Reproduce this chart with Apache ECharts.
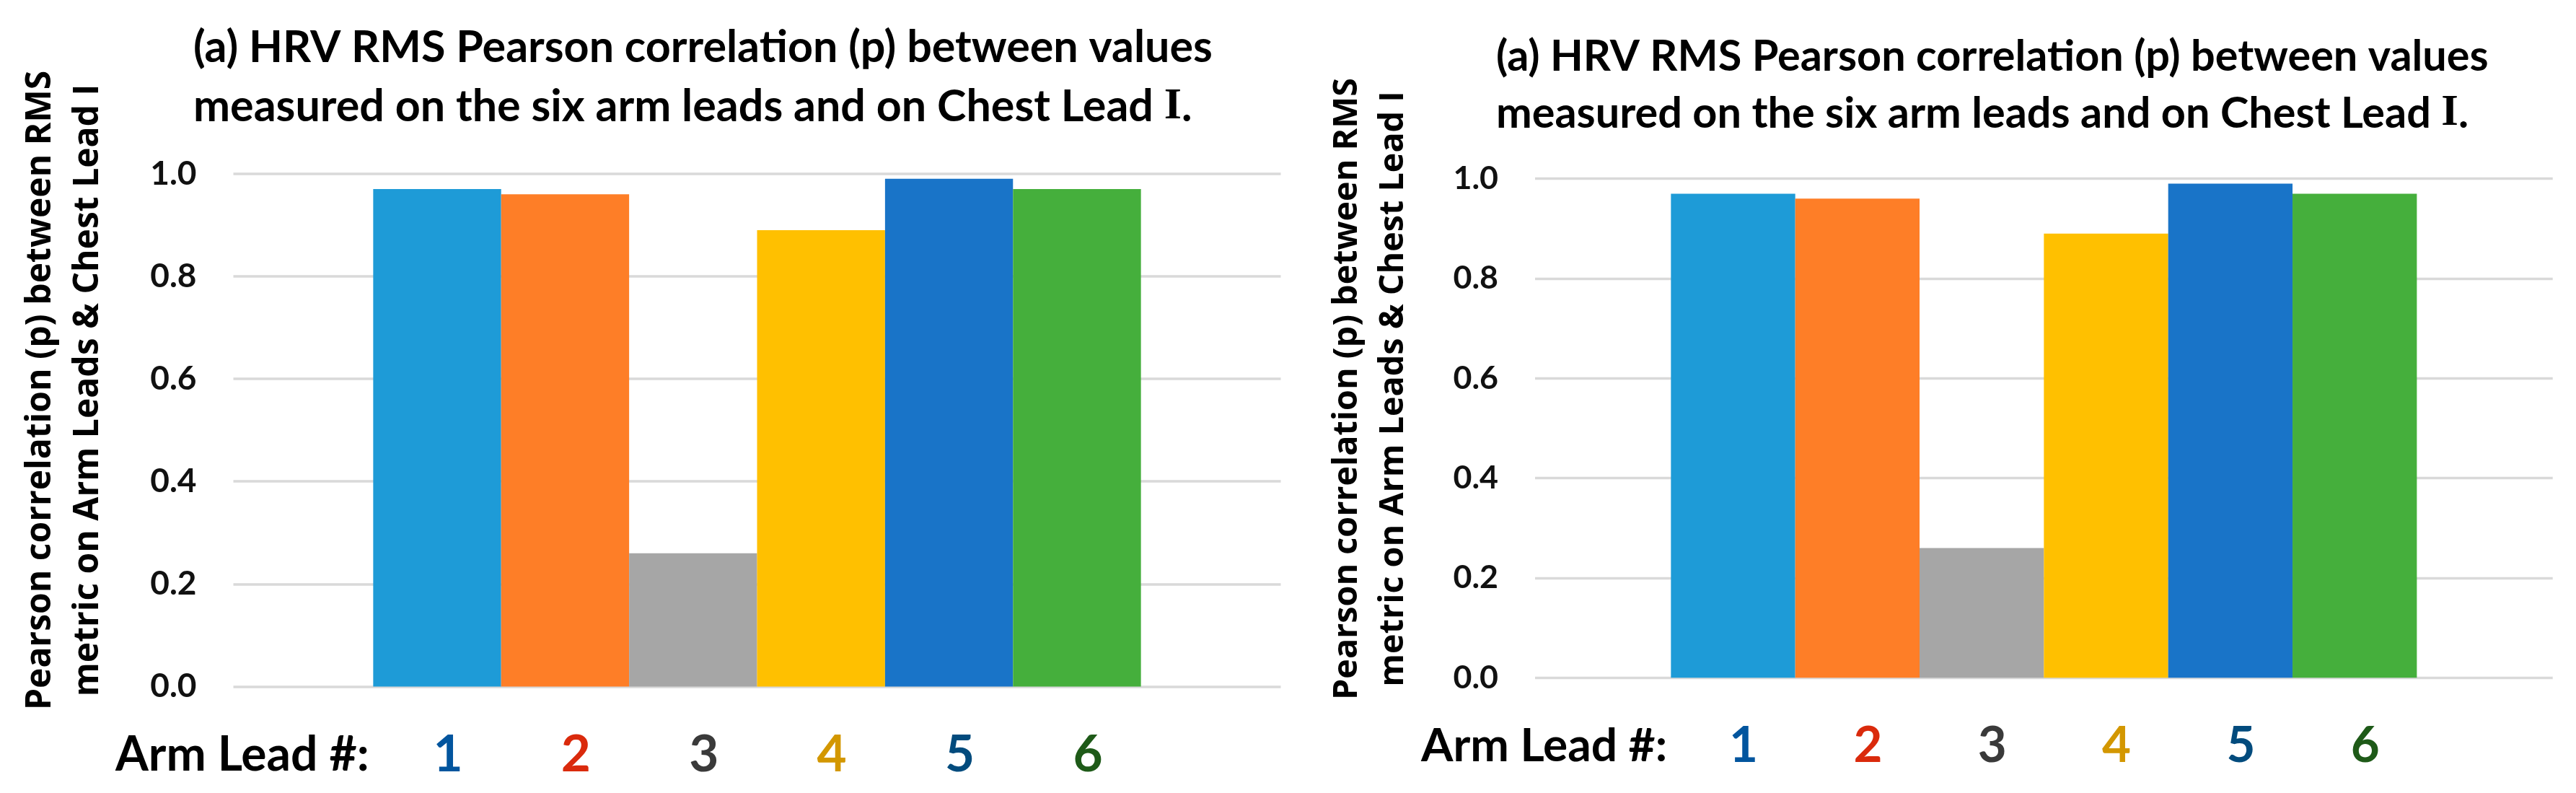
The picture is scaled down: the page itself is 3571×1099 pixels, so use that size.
<!DOCTYPE html>
<html>
<head>
<meta charset="utf-8">
<script src="https://cdn.jsdelivr.net/npm/echarts@6/dist/echarts.min.js"></script>
<style>
html, body { margin: 0; padding: 0; background: #ffffff; }
#chart { width: 3571px; height: 1099px; }
</style>
</head>
<body>
<div id="chart"></div>
<script>
// ---------------- data ----------------
const categories = ['Arm Lead'];
const leadNames = ['1', '2', '3', '4', '5', '6'];
const rmsCorrLeft = [0.97, 0.96, 0.26, 0.89, 0.99, 0.97];
const rmsCorrRight = [0.97, 0.96, 0.26, 0.89, 0.99, 0.97];
const yMin = 0, yMax = 1.0, yStep = 0.2;
const titleLine1 = '(a) HRV RMS Pearson correlation (p) between values';
const titleLine2 = 'measured on the six arm leads and on Chest Lead ';
const titleRoman = 'I';
const yNameLines = ['Pearson correlation (p) between RMS', 'metric on Arm Leads & Chest Lead I'];
const xLabelText = 'Arm Lead #:';

// ---------------- styles ----------------
const barColors = ['#1E9BD7', '#FE7E27', '#A6A6A6', '#FFC000', '#1974C8', '#45AF3C'];
const numColors = ['#02559E', '#DA2A0C', '#3A3A3A', '#D39700', '#024B7D', '#1E5A18'];
const SANS = 'Lato, "Open Sans", sans-serif';
const LABEL_FONT = '"Open Sans", "Noto Sans", sans-serif';

const panels = [
  { values: rmsCorrLeft, grid: { left: 323.5, top: 240.7, width: 1452, height: 710.8 }, s: 1.0,
    titleLeft: 268, titleTop: 25, titleLH: 82, titleSize: 61,
    yName: { x: 89, y: 541, lh: 66, size: 48 },
    xLab: { x: 160, y: 1047, size: 66 },
    numDist: 59, numSize: 71 },
  { values: rmsCorrRight, grid: { left: 2128, top: 247.7, width: 1410.7, height: 691.5 }, s: 0.973,
    titleLeft: 2074, titleTop: 39, titleLH: 79, titleSize: 59.4,
    yName: { x: 1900, y: 539, lh: 64, size: 46.7 },
    xLab: { x: 1970, y: 1034, size: 64 },
    numDist: 60, numSize: 69 }
];

const option = {
  backgroundColor: '#ffffff',
  animation: false,
  title: panels.map(p => ({
    text: titleLine1 + '\n' + titleLine2 + '{r|' + titleRoman + '}.',
    left: p.titleLeft,
    top: p.titleTop,
    padding: 0,
    textStyle: {
      fontFamily: SANS, fontWeight: 'bold', fontSize: p.titleSize, color: '#000000',
      lineHeight: p.titleLH,
      rich: { r: { fontFamily: '"Liberation Serif", "DejaVu Serif", serif', fontWeight: 'bold',
                   fontSize: p.titleSize * 1.02, color: '#000000', lineHeight: p.titleLH } }
    }
  })),
  grid: panels.map(p => Object.assign({ containLabel: false }, p.grid)),
  xAxis: panels.map((p, i) => ({
    type: 'category', gridIndex: i, data: categories,
    axisLine: { show: false }, axisTick: { show: false }, axisLabel: { show: false },
    splitLine: { show: false }
  })),
  yAxis: panels.map((p, i) => ({
    type: 'value', gridIndex: i, min: yMin, max: yMax, interval: yStep,
    axisLine: { show: false }, axisTick: { show: false },
    axisLabel: {
      margin: 51, color: '#111111', fontFamily: SANS, fontWeight: 'bold', fontSize: 46 * p.s,
      formatter: v => v.toFixed(1)
    },
    splitLine: { lineStyle: { color: '#D9D9D9', width: 3.5 * p.s } }
  })),
  graphic: [].concat(...panels.map(p => [
    {
      type: 'text', x: p.yName.x, y: p.yName.y, rotation: Math.PI / 2, silent: true,
      style: {
        text: yNameLines.join('\n'), align: 'center', verticalAlign: 'middle',
        font: 'bold ' + p.yName.size + 'px ' + LABEL_FONT, lineHeight: p.yName.lh, fill: '#000000'
      }
    },
    {
      type: 'text', x: p.xLab.x, y: p.xLab.y, silent: true,
      style: {
        text: xLabelText, align: 'left', verticalAlign: 'middle',
        font: 'bold ' + p.xLab.size + 'px ' + SANS, fill: '#000000'
      }
    }
  ])),
  series: [].concat(...panels.map((p, pi) => leadNames.map((name, i) => ({
    type: 'bar', name: name, xAxisIndex: pi, yAxisIndex: pi,
    data: [p.values[i]],
    barGap: '0%', barCategoryGap: '26.7%',
    silent: true,
    itemStyle: { color: barColors[i] },
    label: {
      show: true, position: 'bottom', distance: p.numDist, offset: [15 * p.s, 0],
      formatter: '{a}', color: numColors[i],
      fontFamily: SANS, fontWeight: 'bold', fontSize: p.numSize
    }
  }))))
};

const chart = echarts.init(document.getElementById('chart'), null, { renderer: 'canvas', width: 3571, height: 1099 });
chart.setOption(option);
</script>
</body>
</html>
